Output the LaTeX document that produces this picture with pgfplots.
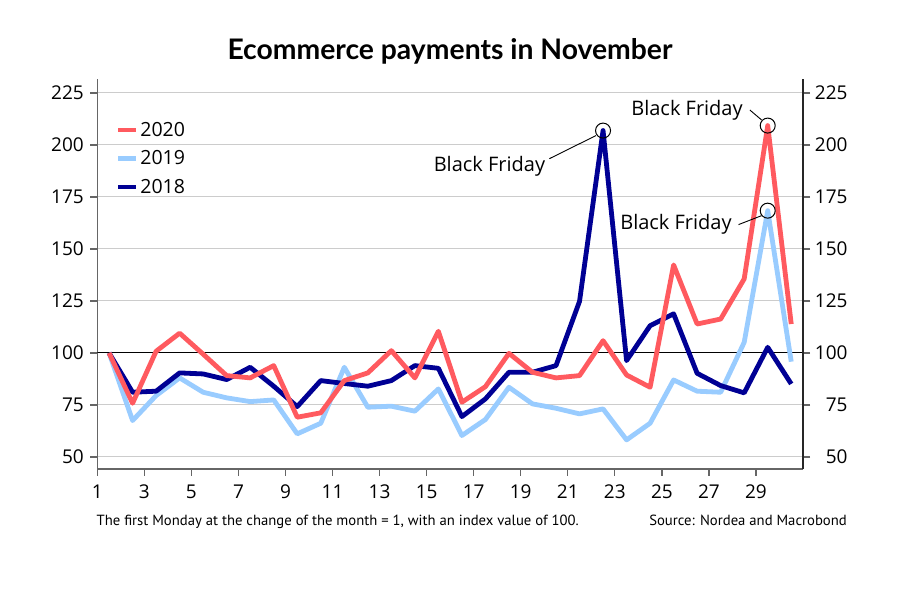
\documentclass[border=0pt]{standalone}
\usepackage{pgfplots}
\pgfplotsset{compat=1.18}
\usepackage{fontspec}
\setmainfont{Open Sans}
\newfontfamily\footfont{PT Sans}
\newfontfamily\titlefont{Lato}
\definecolor{cA}{HTML}{FF5A5F}
\definecolor{cB}{HTML}{99CCFF}
\definecolor{cC}{HTML}{000094}
\definecolor{axgray}{HTML}{666666}
\begin{document}
\begin{tikzpicture}[x=1pt,y=1pt]
\path[use as bounding box, fill=white] (0,0) rectangle (900,589);
\node[anchor=base, inner sep=0, font=\titlefont\fontsize{28.3}{28.3}\selectfont\bfseries] at (450,529) {Ecommerce payments in November};
\node[anchor=base west, inner sep=0, font=\footfont\fontsize{14.7}{14.7}\selectfont] at (96.5,63.5) {The first Monday at the change of the month = 1, with an index value of 100.};
\node[anchor=base east, inner sep=0, font=\footfont\fontsize{14.7}{14.7}\selectfont] at (847,63.5) {Source: Nordea and Macrobond};
\begin{axis}[
  at={(97.3pt,120pt)}, anchor=south west,
  scale only axis, width=705.7pt, height=390pt,
  xmin=1, xmax=31, ymin=44.2, ymax=231.7,
  axis x line*=bottom, axis y line*=left,
  axis line style={-, color=axgray, line width=1.5pt},
  tick align=outside, major tick length=7pt,
  tick style={color=axgray, line width=1.3pt},
  xtick={1,3,...,29}, ytick={50,75,...,225},
  ymajorgrids, grid style={color=black!20, line width=0.9pt},
  tick label style={font=\fontsize{19}{19}\selectfont},
  yticklabel style={xshift=-3pt},
  xticklabel style={yshift=-5pt},
  /pgf/number format/assume math mode=true,
  legend style={at={(0.026,0.895)}, anchor=north west, draw=none, fill=none,
    font=\fontsize{19.5}{19.5}\selectfont, row sep=9pt, inner sep=0pt},
  legend cell align=left,
  legend image code/.code={\draw[line width=4.5pt] (0pt,0pt) -- (18pt,0pt);},
  line join=round,
]
\addlegendimage{cA}\addlegendentry{2020}
\addlegendimage{cB}\addlegendentry{2019}
\addlegendimage{cC}\addlegendentry{2018}
\addplot[black, line width=1pt, forget plot] coordinates {(1,100) (31,100)};
% 2019
\addplot[cB, line width=4.8pt, forget plot] table {
x y
1.5 100
2.5 67.5
3.5 79.5
4.5 88
5.5 81.1
6.5 78.4
7.5 76.6
8.5 77.4
9.5 61.1
10.5 66.2
11.5 93.1
12.5 73.9
13.5 74.4
14.5 72
15.5 82.7
16.5 60.3
17.5 68
18.5 83.5
19.5 75.5
20.5 73.4
21.5 70.7
22.5 73.1
23.5 58.2
24.5 66.2
25.5 87
26.5 81.6
27.5 81.1
28.5 105.1
29.5 168.4
30.5 95.8
};
% 2018
\addplot[cC, line width=4.8pt, forget plot] table {
x y
1.5 100
2.5 81.1
3.5 81.6
4.5 90.4
5.5 89.9
6.5 87.2
7.5 93.1
8.5 84
9.5 74.2
10.5 86.7
11.5 85.3
12.5 84
13.5 86.7
14.5 93.9
15.5 92.6
16.5 69.4
17.5 77.9
18.5 90.7
19.5 90.7
20.5 93.9
21.5 124.8
22.5 206.9
23.5 96.3
24.5 113.1
25.5 118.8
26.5 90.2
27.5 84.3
28.5 80.8
29.5 102.7
30.5 85.1
};
% 2020
\addplot[cA, line width=4.8pt, forget plot] table {
x y
1.5 100
2.5 75.8
3.5 100.8
4.5 109.5
5.5 99.4
6.5 89.1
7.5 88
8.5 93.9
9.5 69.1
10.5 71.2
11.5 86.7
12.5 90.4
13.5 101.1
14.5 88
15.5 110.4
16.5 76.3
17.5 83.8
18.5 99.8
19.5 90.7
20.5 88
21.5 89.1
22.5 105.9
23.5 89.4
24.5 83.5
25.5 142.3
26.5 113.9
27.5 116.3
28.5 135.6
29.5 209.3
30.5 113.9
};
\addplot[only marks, mark=o, mark size=7.5pt, black, mark options={line width=1pt}, forget plot]
  coordinates {(22.5,206.9) (29.5,209.3) (29.5,168.4)};
\draw[black, line width=0.9pt] (axis cs:20.22,193.4) -- (axis cs:22.2,204.5);
\draw[black, line width=0.9pt] (axis cs:28.74,216.8) -- (axis cs:29.24,212);
\draw[black, line width=0.9pt] (axis cs:28.26,161.7) -- (axis cs:29.24,166);
\node[font=\fontsize{20}{20}\selectfont] at (axis cs:17.67,189.6) {Black Friday};
\node[font=\fontsize{20}{20}\selectfont] at (axis cs:26.07,216.5) {Black Friday};
\node[font=\fontsize{20}{20}\selectfont] at (axis cs:25.6,161.6) {Black Friday};
\end{axis}
\begin{axis}[
  at={(97.3pt,120pt)}, anchor=south west,
  scale only axis, width=705.7pt, height=390pt,
  xmin=1, xmax=31, ymin=44.2, ymax=231.7,
  axis x line=none, axis y line*=right,
  axis line style={-, color=black!85, line width=1.5pt},
  tick align=outside, major tick length=7pt,
  tick style={color=axgray, line width=1.3pt},
  ytick={50,75,...,225},
  tick label style={font=\fontsize{19}{19}\selectfont},
  yticklabel style={text width=34pt, align=right},
  /pgf/number format/assume math mode=true,
]
\addplot[draw=none] coordinates {(1,100)};
\end{axis}
\end{tikzpicture}
\end{document}
